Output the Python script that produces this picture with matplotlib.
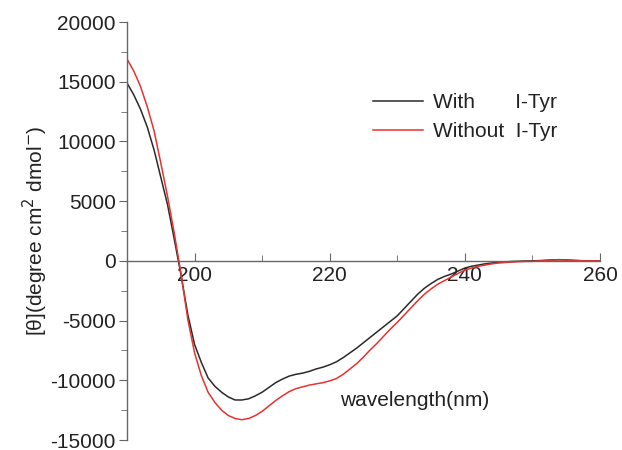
import numpy as np
import matplotlib
matplotlib.use("Agg")
import matplotlib.pyplot as plt
from matplotlib.ticker import MultipleLocator

plt.rcParams['font.family'] = ['Liberation Sans', 'DejaVu Sans']
plt.rcParams['axes.unicode_minus'] = False

# wavelength in nm, 1 nm steps
wavelength = list(range(190, 261))

# CD signal with I-Tyr (black)
with_tyr = [14900, 13900, 12700, 11200, 9300, 7000, 4700, 1800, -1200, -4500,
            -7000, -8500, -9800, -10500, -11000, -11400, -11650, -11650, -11550, -11300,
            -11000, -10600, -10200, -9900, -9650, -9500, -9400, -9250, -9050, -8900,
            -8700, -8450, -8100, -7700, -7300, -6850, -6400, -5950, -5500, -5050,
            -4600, -4000, -3400, -2800, -2300, -1900, -1550, -1300, -1100, -850,
            -600, -450, -350, -250, -180, -120, -80, -50, -30, -10,
            0, 20, 50, 80, 100, 80, 50, 20, 0, 0,
            0]

# CD signal without I-Tyr (red)
without_tyr = [16900, 15900, 14600, 12900, 10900, 8200, 5400, 2300, -1100, -4900,
               -7700, -9600, -11000, -11850, -12500, -12950, -13200, -13300, -13200, -12950,
               -12600, -12150, -11700, -11300, -10950, -10700, -10550, -10400, -10300, -10200,
               -10050, -9850, -9500, -9050, -8600, -8050, -7450, -6900, -6300, -5700,
               -5150, -4550, -3950, -3350, -2800, -2350, -1950, -1650, -1350, -1050,
               -780, -600, -450, -350, -250, -180, -140, -100, -70, -50,
               -40, -10, 30, 70, 80, 60, 30, 10, 0, 0,
               0]

fig = plt.figure(figsize=(6.22, 4.5), dpi=100)
ax = fig.add_axes([127 / 622, 10 / 450, 473 / 622, 418 / 450])

ax.plot(wavelength, with_tyr, color='#2a2a2a', lw=1.1, label='With       I-Tyr')
ax.plot(wavelength, without_tyr, color='#e8322e', lw=1.1, label='Without  I-Tyr')

ax.set_xlim(190, 260)
ax.set_ylim(-15000, 20000)

axis_col = '#666666'
ax.spines['top'].set_visible(False)
ax.spines['right'].set_visible(False)
ax.spines['bottom'].set_position(('data', 0))
for s in ('left', 'bottom'):
    ax.spines[s].set_color(axis_col)
    ax.spines[s].set_linewidth(1.0)

ax.xaxis.set_major_locator(MultipleLocator(20))
ax.xaxis.set_minor_locator(MultipleLocator(10))
ax.yaxis.set_major_locator(MultipleLocator(5000))
ax.yaxis.set_minor_locator(MultipleLocator(2500))

ax.tick_params(axis='x', which='major', direction='in', length=6, color=axis_col,
               labelsize=15, pad=4, labelcolor='#222222')
ax.tick_params(axis='x', which='minor', direction='in', length=4, color=axis_col)
ax.tick_params(axis='y', which='major', direction='out', length=6, color=axis_col,
               labelsize=15, pad=2, labelcolor='#222222')
ax.tick_params(axis='y', which='minor', direction='out', length=4, color=axis_col)

ax.set_ylabel('[θ](degree cm$^{2}$ dmol$^{-}$)', fontsize=15,
              color='#222222', labelpad=0)
ax.text(232.6, -11700, 'wavelength(nm)', ha='center', va='center',
        fontsize=15, color='#222222')

leg = ax.legend(loc='upper left', bbox_to_anchor=(0.48, 0.875), frameon=False,
                fontsize=15, handlelength=2.4, handletextpad=0.5,
                labelspacing=0.5)
for t in leg.get_texts():
    t.set_color('#222222')

fig.savefig('out.png', dpi=100)
